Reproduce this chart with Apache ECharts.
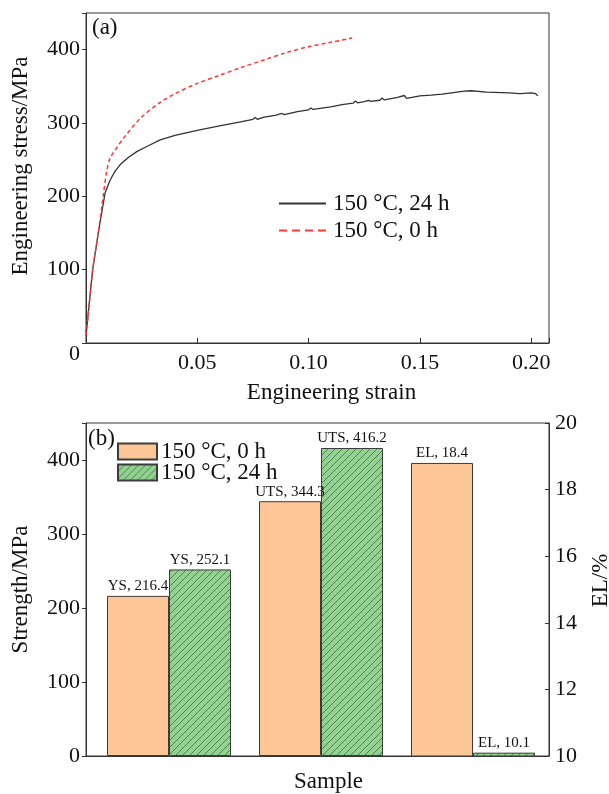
<!DOCTYPE html>
<html>
<head>
<meta charset="utf-8">
<script src="https://cdn.jsdelivr.net/npm/echarts@6/dist/echarts.min.js"></script>
<style>
  html, body { margin: 0; padding: 0; background: #fff; }
  #chart { width: 609px; height: 794px; }
</style>
</head>
<body>
<div id="chart"></div>
<script>
// (a) stress-strain curves
const strain24h = [0, 0.0015, 0.003, 0.0055, 0.0086, 0.0108, 0.013, 0.0153, 0.019, 0.0228, 0.028, 0.0333, 0.04, 0.05, 0.06, 0.07, 0.075, 0.076, 0.077, 0.08, 0.085, 0.088, 0.089, 0.095, 0.1, 0.101, 0.102, 0.11, 0.115, 0.12, 0.121, 0.122, 0.125, 0.127, 0.128, 0.132, 0.133, 0.134, 0.14, 0.143, 0.144, 0.15, 0.155, 0.16, 0.165, 0.17, 0.173, 0.18, 0.19, 0.195, 0.2, 0.202, 0.203];
const stress24h = [10, 55, 100, 150, 205, 222, 234, 243, 253, 261, 269, 277, 283, 290, 296, 302, 305, 307.5, 305, 308, 310.5, 313, 311.5, 315.5, 318, 320.5, 318.5, 322, 325, 327, 330, 327.5, 329, 331, 329.5, 331, 334, 331.5, 335, 337.5, 333.5, 337, 338, 339.5, 341.5, 343.5, 344, 342, 341, 340, 341, 340, 337];
const strain0h = [0, 0.0015, 0.003, 0.0055, 0.0078, 0.0093, 0.0108, 0.0131, 0.0168, 0.0243, 0.0333, 0.04, 0.05, 0.06, 0.07, 0.08, 0.09, 0.1, 0.11, 0.1196];
const stress0h = [10, 55, 100, 150, 202, 234, 252, 263, 279, 306, 328, 340, 354, 365, 376, 386, 396, 404, 410, 416];

// (b) bars
const groups = ['YS', 'UTS', 'EL'];
const strengthBars0h = [216.4, 344.3, '-'];
const strengthBars24h = [252.1, 416.2, '-'];
const elBars0h = ['-', '-', 18.8];
const elBars24h = ['-', '-', 10.1];
const printed0h = ['216.4', '344.3', '18.4'];
const printed24h = ['252.1', '416.2', '10.1'];

const legendText = { bar0h: '150 °C, 0 h', bar24h: '150 °C, 24 h' };

const font = "'Liberation Serif', 'Times New Roman', serif";
const axisColor = '#333';
const orange = '#fdc697';

// hatch for the green bars
const tile = document.createElement('canvas');
tile.width = 7; tile.height = 7;
const ctx = tile.getContext('2d');
ctx.fillStyle = '#93d193';
ctx.fillRect(0, 0, 7, 7);
ctx.strokeStyle = '#3d6e3d';
ctx.lineWidth = 0.8;
ctx.beginPath();
ctx.moveTo(-1, 8); ctx.lineTo(8, -1);
ctx.stroke();
const hatch = { image: tile, repeat: 'repeat' };

const pair = (xs, ys) => xs.map((x, i) => [x, ys[i]]);

const dom = document.getElementById('chart');
const myChart = echarts.init(dom, null, { renderer: 'canvas' });

const tickLabel = { color: '#111', fontFamily: font, fontSize: 22 };
const nameStyle = { color: '#111', fontFamily: font, fontSize: 23 };

const barLabel = (texts) => ({
  show: true,
  position: 'top',
  distance: 2,
  color: '#111',
  fontFamily: font,
  fontSize: 15,
  formatter: p => groups[p.dataIndex] + ', ' + texts[p.dataIndex]
});
const barBorder = { borderColor: '#3c3c3c', borderWidth: 1 };

const option = {
  animation: false,
  backgroundColor: '#fff',
  grid: [
    { left: 86, right: 60, top: 13, height: 330, show: true, borderColor: axisColor, borderWidth: 1, outerBoundsMode: 'none' },
    { left: 86, right: 60, top: 423, height: 333, show: true, borderColor: axisColor, borderWidth: 1, outerBoundsMode: 'none' },
    // bars sit a little right of the frame's centre, as in the source
    { left: 93, right: 60, top: 423, height: 333, outerBoundsMode: 'none' }
  ],
  xAxis: [
    {
      type: 'value', gridIndex: 0, min: 0, max: 0.208, interval: 0.05,
      name: 'Engineering strain', nameLocation: 'middle', nameGap: 38,
      nameTextStyle: Object.assign({ padding: [0, 0, 0, 28] }, nameStyle),
      axisLine: { lineStyle: { color: axisColor } },
      axisTick: { inside: true, length: 5, lineStyle: { color: axisColor } },
      axisLabel: Object.assign({
        margin: 9,
        formatter: v => (v === 0 || v > 0.205) ? '' : v.toFixed(2)
      }, tickLabel),
      splitLine: { show: false }
    },
    {
      type: 'category', gridIndex: 1, data: groups,
      name: 'Sample', nameLocation: 'middle', nameGap: 14,
      nameTextStyle: Object.assign({ padding: [0, 0, 0, 22], verticalAlign: 'top' }, nameStyle),
      axisLine: { lineStyle: { color: axisColor } },
      axisTick: { show: false },
      axisLabel: { show: false }
    },
    { type: 'category', gridIndex: 2, data: groups, show: false },
    { type: 'category', gridIndex: 2, data: groups, show: false }
  ],
  yAxis: [
    {
      type: 'value', gridIndex: 0, min: 0, max: 450, interval: 100,
      name: 'Engineering stress/MPa', nameLocation: 'middle', nameGap: 54,
      nameTextStyle: Object.assign({ padding: [0, 0, 0, 24] }, nameStyle),
      axisLine: { show: true, lineStyle: { color: axisColor } },
      axisTick: { show: true, length: 4, lineStyle: { color: axisColor } },
      axisLabel: Object.assign({
        margin: 6,
        formatter: v => v === 0 ? '{z|0}' : (v % 100 === 0 ? String(v) : ''),
        rich: { z: { fontFamily: font, fontSize: 22, color: '#111', padding: [22, 0, 0, 0] } }
      }, tickLabel),
      splitLine: { show: false }
    },
    {
      type: 'value', gridIndex: 1, min: 0, max: 450, interval: 100,
      name: 'Strength/MPa', nameLocation: 'middle', nameGap: 54,
      nameTextStyle: nameStyle,
      axisLine: { show: true, lineStyle: { color: axisColor } },
      axisTick: { show: true, length: 4, lineStyle: { color: axisColor } },
      axisLabel: Object.assign({
        margin: 6,
        formatter: v => v % 100 === 0 ? String(v) : ''
      }, tickLabel),
      splitLine: { show: false }
    },
    {
      type: 'value', gridIndex: 1, position: 'right', min: 10, max: 20, interval: 2,
      name: 'EL/%', nameLocation: 'middle', nameGap: 40, nameRotate: 90,
      nameTextStyle: Object.assign({ padding: [0, 0, 0, 18] }, nameStyle),
      axisLine: { show: true, lineStyle: { color: axisColor } },
      axisTick: { show: true, inside: true, length: 4, lineStyle: { color: axisColor } },
      axisLabel: Object.assign({ margin: 6 }, tickLabel),
      splitLine: { show: false }
    },
    { type: 'value', gridIndex: 2, min: 0, max: 450, show: false, splitLine: { show: false } },
    { type: 'value', gridIndex: 2, min: 10, max: 20, show: false, splitLine: { show: false } }
  ],
  legend: [
    {
      orient: 'vertical', left: 278, top: 192, padding: 0,
      itemWidth: 47, itemHeight: 14, itemGap: 4,
      itemStyle: { opacity: 0 },
      textStyle: { color: '#111', fontFamily: font, fontSize: 23, lineHeight: 23, padding: [0, 0, 0, 2] },
      data: ['150 °C, 24 h', { name: '150 °C, 0 h', lineStyle: { type: [8, 5] } }]
    },
    {
      orient: 'vertical', left: 117, top: 440, padding: 0,
      itemWidth: 39, itemHeight: 16, itemGap: -2,
      textStyle: { color: '#111', fontFamily: font, fontSize: 23, lineHeight: 20, padding: [0, 0, 0, -1] },
      formatter: name => legendText[name],
      data: [{ name: 'bar0h', icon: 'rect' }, { name: 'bar24h', icon: 'rect' }]
    }
  ],
  graphic: [
    { type: 'text', left: 92, top: 16, style: { text: '(a)', font: '23px ' + font, fill: '#111' } },
    { type: 'text', left: 88, top: 427, style: { text: '(b)', font: '23px ' + font, fill: '#111' } }
  ],
  series: [
    {
      name: '150 °C, 24 h', type: 'line', xAxisIndex: 0, yAxisIndex: 0,
      data: pair(strain24h, stress24h), symbol: 'none',
      lineStyle: { color: '#333', width: 1.3 }, itemStyle: { color: '#333' }
    },
    {
      name: '150 °C, 0 h', type: 'line', xAxisIndex: 0, yAxisIndex: 0,
      data: pair(strain0h, stress0h), symbol: 'none', smooth: 0.3,
      lineStyle: { color: '#ff3838', width: 1.5, type: [4, 3] }, itemStyle: { color: '#ff3838' }
    },
    {
      name: 'bar0h', type: 'bar', xAxisIndex: 2, yAxisIndex: 3,
      data: strengthBars0h, barWidth: 62, barGap: '0%',
      itemStyle: Object.assign({ color: orange }, barBorder),
      label: barLabel(printed0h)
    },
    {
      name: 'bar24h', type: 'bar', xAxisIndex: 2, yAxisIndex: 3,
      data: strengthBars24h, barWidth: 62, barGap: '0%',
      itemStyle: Object.assign({ color: hatch }, barBorder),
      label: barLabel(printed24h)
    },
    {
      name: 'bar0h', type: 'bar', xAxisIndex: 3, yAxisIndex: 4,
      data: elBars0h, barWidth: 62, barGap: '0%',
      itemStyle: Object.assign({ color: orange }, barBorder),
      label: barLabel(printed0h)
    },
    {
      name: 'bar24h', type: 'bar', xAxisIndex: 3, yAxisIndex: 4,
      data: elBars24h, barWidth: 62, barGap: '0%',
      itemStyle: Object.assign({ color: hatch }, barBorder),
      label: barLabel(printed24h)
    }
  ]
};

myChart.setOption(option);
window.addEventListener('resize', myChart.resize);
</script>
</body>
</html>
